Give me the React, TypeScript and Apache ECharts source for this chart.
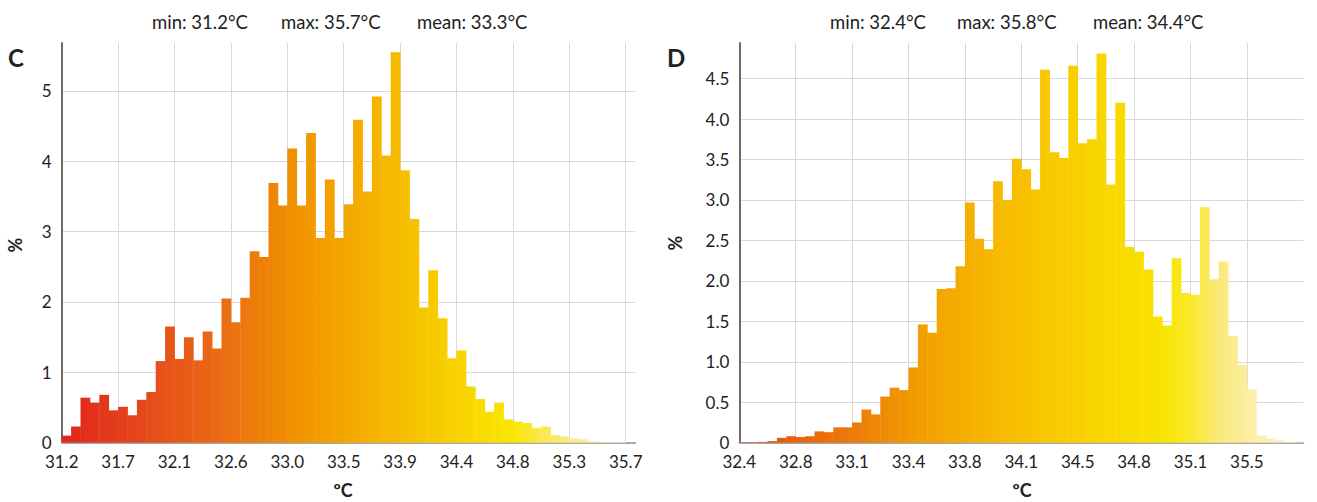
import React, { useEffect, useRef } from "react";
import * as echarts from "echarts";

// Panel C: 60 bins of 0.075 °C from 31.2 to 35.7
const labelsC = ["31.2", "31.7", "32.1", "32.6", "33.0", "33.5", "33.9", "34.4", "34.8", "35.3", "35.7"];
const valuesC = [
  0.10, 0.23, 0.64, 0.57, 0.68, 0.46, 0.51, 0.39, 0.61, 0.72,
  1.16, 1.65, 1.19, 1.50, 1.17, 1.58, 1.34, 2.05, 1.71, 2.06,
  2.72, 2.64, 3.69, 3.37, 4.18, 3.37, 4.40, 2.91, 3.74, 2.91,
  3.39, 4.59, 3.57, 4.92, 4.08, 5.55, 3.87, 3.18, 1.92, 2.45,
  1.77, 1.20, 1.31, 0.80, 0.62, 0.44, 0.57, 0.33, 0.30, 0.28,
  0.21, 0.23, 0.11, 0.09, 0.06, 0.05, 0.02, 0.01, 0.01, 0.01,
];
const statsC = ["min: 31.2°C", "max: 35.7°C", "mean: 33.3°C"];

// Panel D: 60 bins from 32.4 to 35.8
const labelsD = ["32.4", "32.8", "33.1", "33.4", "33.8", "34.1", "34.5", "34.8", "35.1", "35.5"];
const valuesD = [
  0.005, 0.005, 0.01, 0.02, 0.06, 0.08, 0.07, 0.08, 0.14, 0.13,
  0.19, 0.19, 0.25, 0.41, 0.35, 0.57, 0.68, 0.65, 0.93, 1.46,
  1.36, 1.90, 1.91, 2.18, 2.97, 2.52, 2.39, 3.23, 3.00, 3.51,
  3.38, 3.13, 4.61, 3.59, 3.52, 4.66, 3.70, 3.75, 4.81, 3.19,
  4.20, 2.42, 2.36, 2.14, 1.56, 1.45, 2.28, 1.85, 1.83, 2.91,
  2.02, 2.24, 1.32, 0.96, 0.66, 0.09, 0.05, 0.03, 0.01, 0.005,
];
const statsD = ["min: 32.4°C", "max: 35.8°C", "mean: 34.4°C"];

const stopsC = [
  [0, "#e2241c"], [0.15, "#e44a1a"], [0.3, "#ec7012"], [0.42, "#f19300"],
  [0.55, "#f5b200"], [0.7, "#f8d300"], [0.8, "#f9e600"], [0.86, "#f9e95a"],
  [0.92, "#fbec9a"], [1, "#fdf3c8"],
];
const stopsD = [
  [0, "#e24a14"], [0.2, "#ec7a0a"], [0.32, "#f29e00"], [0.45, "#f6b800"],
  [0.6, "#f9d000"], [0.75, "#f8e400"], [0.8, "#f9e82a"], [0.85, "#fae978"],
  [0.9, "#fbeea0"], [1, "#fdf5d0"],
];

const FONT = "Lato";
const BINS = 60;

function makeRender(stops: any[]) {
  return (params: any, api: any) => {
    const i = api.value(0);
    const v = api.value(1);
    const p0 = api.coord([i, 0]);
    const p1 = api.coord([i + 1, v]);
    const gx0 = api.coord([0, 0])[0];
    const gx1 = api.coord([BINS, 0])[0];
    const fill = new echarts.graphic.LinearGradient(
      gx0, 0, gx1, 0,
      stops.map(([offset, color]) => ({ offset, color })),
      true
    );
    return {
      type: "rect",
      shape: { x: p0[0], y: p1[1], width: p1[0] - p0[0] + 0.4, height: p0[1] - p1[1] },
      style: { fill },
    };
  };
}

function xAxis(gridIndex: number, max: number, labels: string[]) {
  return {
    type: "value",
    gridIndex,
    min: 0,
    max,
    interval: 6,
    axisLine: { show: true, onZero: false, lineStyle: { color: "#a8a8a8", width: 2 } },
    axisTick: { show: false },
    axisLabel: {
      color: "#222",
      fontFamily: FONT,
      fontSize: 17,
      margin: 10,
      showMaxLabel: false,
      formatter: (v: number) => labels[Math.round(v / 6)] ?? "",
    },
    splitLine: { show: true, showMaxLine: false, lineStyle: { color: "#d9d9d9", width: 1 } },
  };
}

function yAxis(gridIndex: number, max: number, interval: number, fmt: (v: number) => string) {
  return {
    type: "value",
    gridIndex,
    min: 0,
    max,
    interval,
    axisLine: { show: true, lineStyle: { color: "#6b6b6b", width: 2 } },
    axisTick: { show: false },
    axisLabel: {
      color: "#222",
      fontFamily: FONT,
      fontSize: 17,
      margin: 10,
      showMaxLabel: false,
      formatter: fmt,
    },
    splitLine: { show: true, showMaxLine: false, lineStyle: { color: "#d9d9d9", width: 1 } },
  };
}

function txt(text: string, x: number, y: number, opts: any = {}) {
  return {
    type: "text",
    x,
    y,
    rotation: opts.rotation ?? 0,
    style: {
      text,
      fill: "#222",
      font: `${opts.bold ? "bold " : ""}${opts.size ?? 18.5}px ${FONT}`,
      align: opts.align ?? "left",
      verticalAlign: "middle",
    },
  };
}

export default function App() {
  const ref = useRef<HTMLDivElement>(null);
  useEffect(() => {
    if (!ref.current) return;
    const chart = echarts.init(ref.current, null, { renderer: "svg" });
    const option: any = {
      animation: false,
      backgroundColor: "#ffffff",
      grid: [
        { left: 61.7, top: 43, width: 61 * 9.4, height: 399.7 },
        { left: 739.3, top: 43, width: 60 * 9.4, height: 399.7 },
      ],
      xAxis: [xAxis(0, 61, labelsC), xAxis(1, 60, labelsD)],
      yAxis: [
        yAxis(0, 5.68, 1, (v: number) => String(v)),
        yAxis(1, 4.94, 0.5, (v: number) => (v === 0 ? "0" : v.toFixed(1))),
      ],
      series: [
        {
          type: "custom",
          xAxisIndex: 0,
          yAxisIndex: 0,
          renderItem: makeRender(stopsC),
          data: valuesC.map((v, i) => [i, v]),
          z: 1,
        },
        {
          type: "custom",
          xAxisIndex: 1,
          yAxisIndex: 1,
          renderItem: makeRender(stopsD),
          data: valuesD.map((v, i) => [i, v]),
          z: 1,
        },
      ],
      graphic: [
        txt(statsC[0], 152, 22),
        txt(statsC[1], 281, 22),
        txt(statsC[2], 417, 22),
        txt(statsD[0], 830, 22),
        txt(statsD[1], 957, 22),
        txt(statsD[2], 1093, 22),
        txt("C", 8, 57, { bold: true, size: 24 }),
        txt("D", 667, 57, { bold: true, size: 24 }),
        txt("%", 15, 245, { bold: true, size: 18, align: "center", rotation: Math.PI / 2 }),
        txt("%", 675, 243, { bold: true, size: 18, align: "center", rotation: Math.PI / 2 }),
        txt("ºC", 343, 490, { bold: true, size: 18, align: "center" }),
        txt("ºC", 1022, 490, { bold: true, size: 18, align: "center" }),
      ],
    };
    chart.setOption(option);
    return () => chart.dispose();
  }, []);
  return (
    <div
      ref={ref}
      style={{ position: "absolute", left: 0, top: 0, width: 1317, height: 502, background: "#fff" }}
    />
  );
}
